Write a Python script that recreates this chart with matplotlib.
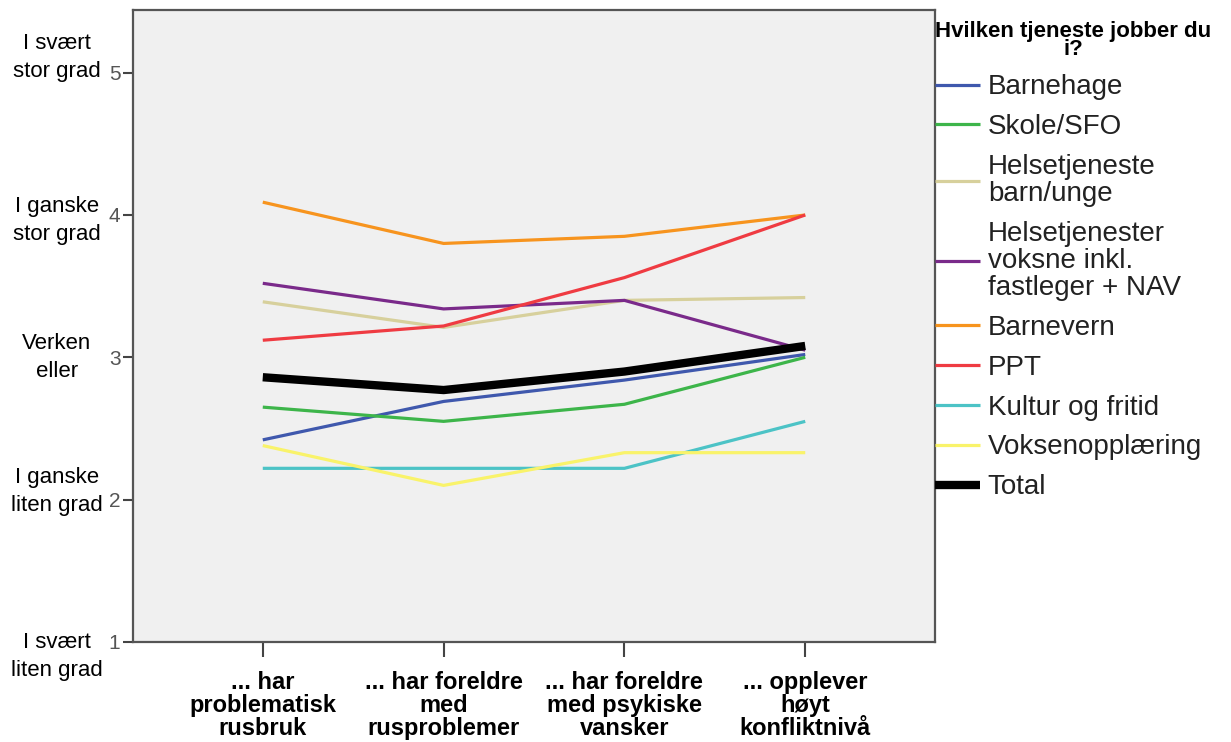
import matplotlib.pyplot as plt
import numpy as np

categories = ["... har\nproblematisk\nrusbruk",
              "... har foreldre\nmed\nrusproblemer",
              "... har foreldre\nmed psykiske\nvansker",
              "... opplever\nhøyt\nkonfliktnivå"]

services = ["Barnehage", "Skole/SFO", "Helsetjeneste\nbarn/unge",
            "Helsetjenester\nvoksne inkl.\nfastleger + NAV", "Barnevern", "PPT",
            "Kultur og fritid", "Voksenopplæring", "Total"]

barnehage = [2.42, 2.69, 2.84, 3.02]
skole = [2.65, 2.55, 2.67, 3.00]
helse_barn = [3.39, 3.21, 3.40, 3.42]
helse_voksne = [3.52, 3.34, 3.40, 3.05]
barnevern = [4.09, 3.80, 3.85, 4.00]
ppt = [3.12, 3.22, 3.56, 4.00]
kultur = [2.22, 2.22, 2.22, 2.55]
voksen = [2.38, 2.10, 2.33, 2.33]
total = [2.86, 2.77, 2.90, 3.08]

scale_values = [1, 2, 3, 4, 5]
scale_labels = ["I svært\nliten grad", "I ganske\nliten grad", "Verken\neller",
                "I ganske\nstor grad", "I svært\nstor grad"]

series = [barnehage, skole, helse_barn, helse_voksne, barnevern, ppt, kultur, voksen, total]
colors = ["#3f58ad", "#3db54a", "#d7d09c", "#7a2a8a", "#f7941e", "#ef3b42",
          "#4cc3c6", "#f9f36a", "#000000"]
widths = [2.3] * 8 + [6]

plt.rcParams['font.family'] = ['Liberation Sans', 'DejaVu Sans']

fig = plt.figure(figsize=(12.31, 7.42), dpi=100)
ax = fig.add_axes([0.108, 0.1348, 0.6516, 0.8517])
ax.set_facecolor("#f0f0f0")

x = np.arange(len(categories))
for vals, c, lw, name in zip(series, colors, widths, services):
    ax.plot(x, vals, color=c, lw=lw, label=name, solid_capstyle="butt")

ax.set_xlim(-0.718, 3.718)
ax.set_ylim(1, 5.44)
ax.set_xticks(x)
ax.set_xticklabels(categories, fontsize=17, fontweight="bold", linespacing=1.0)
ax.set_yticks(scale_values)
ax.set_yticklabels([str(v) for v in scale_values], fontsize=15, color="#555555")
ax.tick_params(axis="x", length=11, width=1.5, color="#444444", pad=10)
ax.tick_params(axis="y", length=7, width=1.5, color="#444444", pad=2)
for s in ax.spines.values():
    s.set_color("#555555")
    s.set_linewidth(1.6)

# scale text left of the numeric ticks
offsets = [-0.10, 0.055, 0.0, -0.04, 0.107]
for val, txt, off in zip(scale_values, scale_labels, offsets):
    ax.text(-0.095, val + off, txt, transform=ax.get_yaxis_transform(),
            ha="center", va="center", fontsize=16, linespacing=1.45)

leg = ax.legend(loc="upper left", bbox_to_anchor=(1.0, 0.983), frameon=False,
                fontsize=20, handlelength=1.6, handletextpad=0.3,
                labelspacing=0.5, borderpad=0, borderaxespad=0,
                title="Hvilken tjeneste jobber du\ni?",
                title_fontproperties={"weight": "bold", "size": 16})
leg._legend_box.align = "left"
leg.get_title().set_ha("center")
leg.get_title().set_linespacing(0.85)
for t in leg.get_texts():
    t.set_color("#222222")
    t.set_linespacing(1.05)

plt.savefig("out.png", dpi=100)
